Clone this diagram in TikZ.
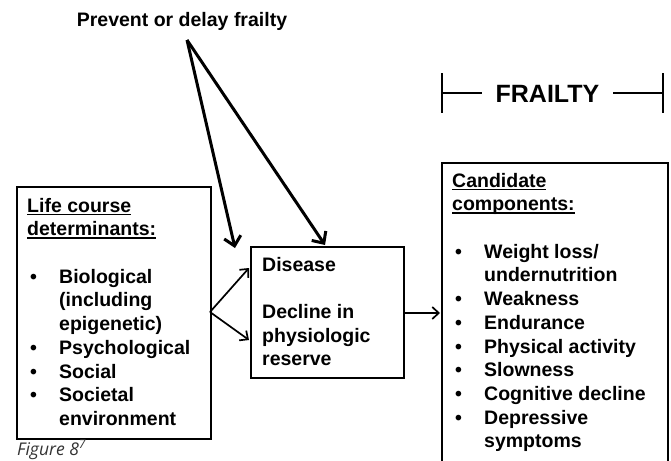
\documentclass[tikz,border=0pt]{standalone}
\usepackage{fontspec}
\setmainfont{Liberation Sans}
\newfontfamily\figfont{Open Sans}
\usetikzlibrary{arrows.meta}
\definecolor{capgray}{HTML}{333333}
\newcommand\myul[1]{\setbox0\hbox{#1}\rlap{\rule[-3pt]{\wd0}{1.4pt}}\box0}
\newcommand\bul{\hspace*{3pt}\makebox[29pt][l]{•}}
\newcommand\ind{\hspace*{32pt}}
\begin{document}
\begin{tikzpicture}[x=1pt,y=-1pt,
  txt/.style={font=\fontsize{19.5}{23.7}\selectfont\bfseries, align=left, inner sep=0pt, anchor=north west},
  boxln/.style={draw, line width=1.6pt, inner sep=0pt, anchor=north west},
  bigarrow/.style={line width=3pt, -{Straight Barb[length=9pt,width=17pt]}},
  smallarrow/.style={line width=1.7pt, -{Straight Barb[length=6.5pt,width=12pt]}},
  bracketln/.style={line width=1.8pt}
]
\useasboundingbox (0,0) rectangle (671,460);
\clip (0,0) rectangle (671,460);

% top label
\node[font=\fontsize{19.5}{23}\selectfont\bfseries, inner sep=0pt, anchor=base] (prevent) at (182,27) {Prevent or delay frailty};
\coordinate (apex) at (187,40);

% boxes
\node[boxln, minimum width=194pt, minimum height=252pt] (left) at (16,186) {};
\node[boxln, minimum width=153pt, minimum height=131pt] (mid) at (250,246) {};
\node[boxln, minimum width=226pt, minimum height=320pt] (right) at (441,162) {};

% left text
\node[txt] (lefttxt) at (27,195.4) {\strut\myul{Life course}\\\myul{determinants:}\\[23.7pt]
\bul Biological\\\ind(including\\\ind epigenetic)\\\bul Psychological\\\bul Social\\\bul Societal\\\ind environment};

% middle text
\node[txt] (midtxt) at (262,254.4) {\strut Disease\\[23.7pt]Decline in\\physiologic\\reserve};

% right text
\node[txt] (righttxt) at (452,170.4) {\strut\myul{Candidate}\\\myul{components:}\\[23.7pt]
\bul Weight loss/\\\ind undernutrition\\\bul Weakness\\\bul Endurance\\\bul Physical activity\\\bul Slowness\\\bul Cognitive decline\\\bul Depressive\\\ind symptoms};

% FRAILTY bracket
\node[font=\fontsize{25}{30}\selectfont\bfseries, inner sep=0pt, anchor=base] (frailty) at (547.5,102) {FRAILTY};
\coordinate (lbt) at (442,73);
\coordinate (lbb) at (442,113);
\coordinate (lbm) at (442,93);
\coordinate (lhe) at (482,93);
\coordinate (rbt) at (663,73);
\coordinate (rbb) at (663,113);
\coordinate (rbm) at (663,93);
\coordinate (rhs) at (613,93);
\draw[bracketln] (lbt) -- (lbb);
\draw[bracketln] (lbm) -- (lhe);
\draw[bracketln] (rbt) -- (rbb);
\draw[bracketln] (rhs) -- (rbm);

% thick arrows
\coordinate (tipA) at (235,248);
\coordinate (tipB) at (325,245);
\draw[bigarrow] (apex) -- (tipA);
\draw[bigarrow] (apex) -- (tipB);

% fork arrows
\coordinate (forkS) at (210,312);
\coordinate (forkA) at (249,268);
\coordinate (forkB) at (249,340);
\draw[smallarrow] (forkS) -- (forkA);
\draw[smallarrow] (forkS) -- (forkB);

% middle to right
\coordinate (midR) at (403,313);
\coordinate (rightL) at (440,313);
\draw[smallarrow] (midR) -- (rightL);

% caption
\node[font=\figfont\itshape\fontsize{17.5}{20}\selectfont, text=capgray, inner sep=0pt, anchor=base west] (fig) at (17,455) {Figure 8\textsuperscript{7}};
\end{tikzpicture}
\end{document}
